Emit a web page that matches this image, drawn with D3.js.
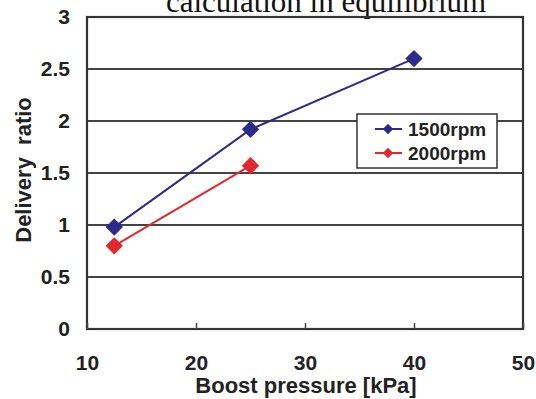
<!DOCTYPE html>
<html>
<head>
<meta charset="utf-8">
<script src="https://cdn.jsdelivr.net/npm/d3@7"></script>
<style>
  body { margin: 0; background: #fff; }
  svg { display: block; }
</style>
</head>
<body>
<script>
// data
var pressure1500 = [12.5, 25, 40];
var ratio1500 = [0.98, 1.92, 2.6];
var pressure2000 = [12.5, 25];
var ratio2000 = [0.8, 1.57];
var seriesNames = ["1500rpm", "2000rpm"];
var seriesColors = ["#2e2a8c", "#e2282c"];
var xTicks = [10, 20, 30, 40, 50];
var yTicks = [0, 0.5, 1, 1.5, 2, 2.5, 3];

var width = 536, height = 399;
// plot edges (no "top" name: it clashes with window.top)
var plotL = 87, plotR = 523, plotT = 17, plotB = 329;
var sans = "'Liberation Sans', Arial, sans-serif";

var svg = d3.select("body").append("svg")
  .attr("width", width)
  .attr("height", height);

var x = d3.scaleLinear().domain([10, 50]).range([plotL, plotR]);
var y = d3.scaleLinear().domain([0, 3]).range([plotB, plotT]);

// cut-off title at the top
svg.append("text")
  .attr("x", 326)
  .attr("y", 12)
  .attr("text-anchor", "middle")
  .style("font-family", "'Liberation Serif', 'Times New Roman', serif")
  .style("font-size", "31px")
  .style("fill", "#111")
  .text("calculation in equilibrium");

// gridlines
svg.selectAll(".grid")
  .data(yTicks.filter(function(d){ return d > 0 && d < 3; }))
  .enter().append("line")
  .attr("x1", plotL).attr("x2", plotR)
  .attr("y1", function(d){ return y(d); })
  .attr("y2", function(d){ return y(d); })
  .attr("stroke", "#444")
  .attr("stroke-width", 1.8);

// plot border
svg.append("rect")
  .attr("x", plotL).attr("y", plotT)
  .attr("width", plotR - plotL).attr("height", plotB - plotT)
  .attr("fill", "none")
  .attr("stroke", "#333")
  .attr("stroke-width", 2.2);

// x axis ticks (inward) and labels
var xAxis = d3.axisBottom(x).tickValues(xTicks).tickSize(-6).tickPadding(26);
var gx = svg.append("g").attr("transform", "translate(0," + plotB + ")").call(xAxis);
gx.select(".domain").remove();
gx.selectAll(".tick line").attr("stroke", "#444").attr("stroke-width", 1.5);
gx.selectAll(".tick text")
  .style("font-family", sans)
  .style("font-weight", "bold")
  .style("font-size", "21px")
  .style("fill", "#222");

var yAxis = d3.axisLeft(y).tickValues(yTicks).tickSize(0).tickPadding(17)
  .tickFormat(function(d){ return String(d); });
var gy = svg.append("g").attr("transform", "translate(" + plotL + ",0)").call(yAxis);
gy.select(".domain").remove();
gy.selectAll(".tick text")
  .style("font-family", sans)
  .style("font-weight", "bold")
  .style("font-size", "21px")
  .style("fill", "#222");

// axis titles
svg.append("text")
  .attr("x", 306).attr("y", 393)
  .attr("text-anchor", "middle")
  .style("font-family", sans)
  .style("font-weight", "bold")
  .style("font-size", "22px")
  .style("fill", "#222")
  .text("Boost pressure [kPa]");

svg.append("text")
  .attr("transform", "translate(31,170) rotate(-90)")
  .attr("text-anchor", "middle")
  .style("font-family", sans)
  .style("font-weight", "bold")
  .style("font-size", "22px")
  .style("fill", "#222")
  .style("white-space", "pre")
  .text("Delivery  ratio");

// series
var series = [
  { name: seriesNames[0], color: seriesColors[0], xs: pressure1500, ys: ratio1500 },
  { name: seriesNames[1], color: seriesColors[1], xs: pressure2000, ys: ratio2000 }
];

var line = d3.line()
  .x(function(d){ return x(d[0]); })
  .y(function(d){ return y(d[1]); });

series.forEach(function(s){
  var pts = s.xs.map(function(v, i){ return [v, s.ys[i]]; });
  svg.append("path")
    .datum(pts)
    .attr("d", line)
    .attr("fill", "none")
    .attr("stroke", s.color)
    .attr("stroke-width", 2);
  svg.selectAll(null)
    .data(pts)
    .enter().append("path")
    .attr("d", d3.symbol().type(d3.symbolSquare).size(150))
    .attr("transform", function(d){ return "translate(" + x(d[0]) + "," + y(d[1]) + ") rotate(45)"; })
    .attr("fill", s.color);
});

// legend
var lg = svg.append("g").attr("transform", "translate(357,114)");
lg.append("rect")
  .attr("width", 140).attr("height", 54)
  .attr("fill", "#fff")
  .attr("stroke", "#333")
  .attr("stroke-width", 1.5);
series.forEach(function(s, i){
  var yy = 15 + i * 24;
  lg.append("line")
    .attr("x1", 18).attr("x2", 45)
    .attr("y1", yy).attr("y2", yy)
    .attr("stroke", s.color).attr("stroke-width", 2);
  lg.append("path")
    .attr("d", d3.symbol().type(d3.symbolSquare).size(55))
    .attr("transform", "translate(31," + yy + ") rotate(45)")
    .attr("fill", s.color);
  lg.append("text")
    .attr("x", 51).attr("y", yy + 7)
    .style("font-family", sans)
    .style("font-weight", "bold")
    .style("font-size", "19px")
    .style("fill", "#222")
    .text(s.name);
});
</script>
</body>
</html>
